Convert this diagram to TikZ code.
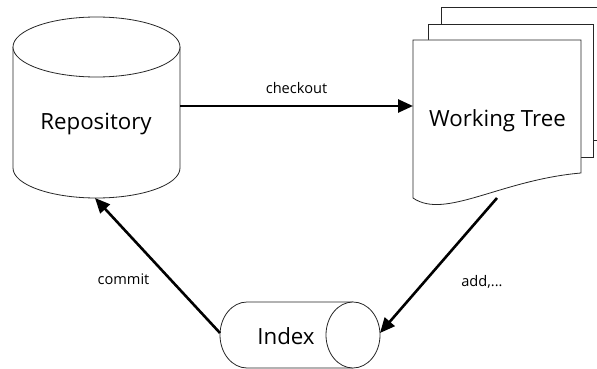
\documentclass[tikz,border=0pt]{standalone}
\usepackage{fontspec}
\setmainfont{Open Sans}
\usetikzlibrary{arrows.meta}
\begin{document}
\begin{tikzpicture}[x=1pt,y=-1pt,
  outline/.style={draw=black!85,line width=0.8pt,fill=white},
  flow/.style={line width=2.6pt,-{Triangle[length=15pt,width=13pt]}},
  bigtext/.style={font=\fontsize{22.3}{26}\selectfont},
  smalltext/.style={font=\fontsize{14.6}{17}\selectfont}]
\useasboundingbox (0,0) rectangle (597,369);

% Repository: upright cylinder
\draw[outline] (13,47) -- (13,168) arc[start angle=180,end angle=360,x radius=83.5,y radius=-30] -- (180,47);
\draw[outline] (96.5,47) ellipse[x radius=83.5,y radius=30];
\node[bigtext] (repo) at (96,124) {Repository};
\coordinate (repoR) at (180,106);
\coordinate (repoB) at (95,198);

% Working tree: stack of pages
\begin{scope}
\clip (0,0) rectangle (597,369);
\draw[outline] (441,7) rectangle (615,140);
\end{scope}
\draw[outline] (428,24) rectangle (593,157);
\draw[outline] (413,40) -- (581,40) -- (581,173)
  .. controls (500,180) and (445,220) .. (413,198) -- cycle;
\node[bigtext] (wt) at (497.5,121) {Working Tree};
\coordinate (wtL) at (413,106);
\coordinate (wtB) at (497,198);

% Index: horizontal cylinder
\draw[outline] (353,302) -- (247,302) arc[start angle=90,end angle=270,x radius=27,y radius=-33] -- (353,368);
\draw[outline] (353,335) ellipse[x radius=27,y radius=33];
\node[bigtext] (index) at (286,336) {Index};
\coordinate (idxR) at (380,333);
\coordinate (idxL) at (220,333);

% Transitions
\draw[flow] (repoR) -- node[smalltext,above=8pt] (co) {checkout} (wtL);
\draw[flow] (wtB) -- (idxR);
\draw[flow] (idxL) -- (repoB);
\node[smalltext] (add) at (482,282) {add,...};
\node[smalltext] (commit) at (123.5,279) {commit};
\end{tikzpicture}
\end{document}
